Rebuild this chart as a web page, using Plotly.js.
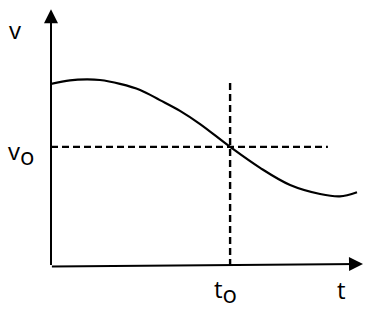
<!DOCTYPE html>
<html>
<head>
<meta charset="utf-8">
<script src="https://cdn.plot.ly/plotly-3.0.1.min.js"></script>
<style>html,body{margin:0;padding:0;background:#fff;}#chart{width:375px;height:313px;}</style>
</head>
<body>
<div id="chart"></div>
<script>
// Curve v(t)
const tValues = [0, 0.63, 1.2, 1.63, 2.3, 2.97, 3.63, 4.3, 4.97, 5.97, 6.97, 7.97, 8.97, 9.63, 10.2];
const vValues = [6.07, 6.19, 6.22, 6.2, 6.07, 5.87, 5.53, 5.17, 4.73, 3.97, 3.27, 2.7, 2.4, 2.32, 2.46];
// Marked point
const t0 = 5.97;
const v0 = 3.97;
// Extents of the guide lines and axes
const hGuideEnd = 9.23;
const vGuideTop = 6.17;
const tAxisEnd = 10.4;
const vAxisEnd = 8.56;
// Labels
const labelV = "v";
const labelT = "t";
const labelV0 = 'v<sub><span style="font-size:24px">o</span></sub>';
const labelT0 = 't<sub><span style="font-size:24px">o</span></sub>';

const font = {family: "Open Sans, Noto Sans, sans-serif", size: 24, color: "#000"};

const traces = [
  {x: tValues, y: vValues, mode: "lines", line: {color: "#000", width: 2.2, shape: "spline", smoothing: 1}, hoverinfo: "skip"},
  {x: [0, hGuideEnd], y: [v0, v0], mode: "lines", line: {color: "#000", width: 2.4, dash: "7px,4px"}, hoverinfo: "skip"},
  {x: [t0, t0], y: [0, vGuideTop], mode: "lines", line: {color: "#000", width: 2.4, dash: "7px,4px"}, hoverinfo: "skip"}
];

const layout = {
  width: 375, height: 313,
  margin: {l: 51, r: 6, t: 5, b: 47, pad: 0},
  paper_bgcolor: "#fff", plot_bgcolor: "#fff",
  showlegend: false,
  xaxis: {range: [0, 10.6], visible: false, fixedrange: true},
  yaxis: {range: [0, 8.7], visible: false, fixedrange: true},
  annotations: [
    // y axis arrow
    {x: 0, y: vAxisEnd, ax: 0, ay: -0.02, xref: "x", yref: "y", axref: "x", ayref: "y",
     text: "", showarrow: true, arrowhead: 2, arrowsize: 1.4, arrowwidth: 2, arrowcolor: "#000"},
    // x axis arrow
    {x: tAxisEnd, y: 0.067, ax: -0.02, ay: -0.017, xref: "x", yref: "y", axref: "x", ayref: "y",
     text: "", showarrow: true, arrowhead: 2, arrowsize: 1.4, arrowwidth: 2, arrowcolor: "#000"},
    {x: 0, y: 7.87, xref: "x", yref: "y", xshift: -36.5, text: labelV, showarrow: false,
     xanchor: "center", yanchor: "middle", font: font},
    {x: 0, y: v0, xref: "x", yref: "y", xshift: -30, yshift: -6, text: labelV0, showarrow: false,
     xanchor: "center", yanchor: "middle", font: font},
    {x: t0, y: 0, xref: "x", yref: "y", xshift: -4.5, yshift: -4, text: labelT0, showarrow: false,
     xanchor: "center", yanchor: "top", font: font},
    {x: 9.67, y: 0, xref: "x", yref: "y", yshift: -5, text: labelT, showarrow: false,
     xanchor: "center", yanchor: "top", font: font}
  ]
};

Plotly.newPlot("chart", traces, layout, {staticPlot: true, displayModeBar: false});
</script>
</body>
</html>
